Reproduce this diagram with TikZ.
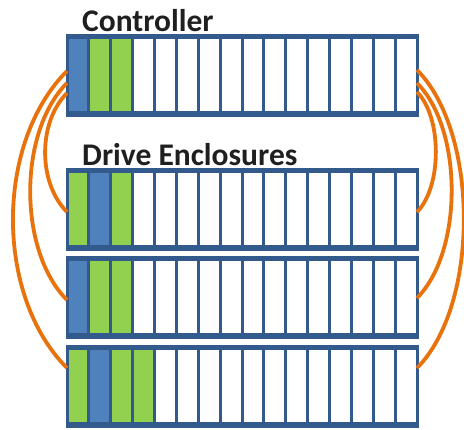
\documentclass[tikz,border=0pt]{standalone}
\usepackage{fontspec}
\setmainfont{Carlito}
\usetikzlibrary{positioning}
\definecolor{frameblue}{RGB}{50,90,140}
\definecolor{slotblue}{RGB}{79,129,189}
\definecolor{slotgreen}{RGB}{146,208,80}
\definecolor{cableorange}{RGB}{232,114,12}
\tikzset{node distance=54pt,
	encl/.style={draw=frameblue, line width=3pt, fill=frameblue, minimum width=350pt, minimum height=80pt, inner sep=0pt, outer sep=0pt},
	slot/.style={draw=frameblue, line width=2.4pt, minimum width=21.275pt, minimum height=74.5pt, inner sep=0pt, outer sep=0pt, anchor=north west},
	title/.style={anchor=base west, inner sep=0pt, text=black!88, font=\bfseries\fontsize{31.5pt}{36pt}\selectfont},
	cable/.style={draw=cableorange, line width=3.8pt}}

\begin{document}
\begin{tikzpicture}
    \useasboundingbox (0,0) rectangle (464pt,-430pt);
    \node[encl] (ctrl) at (242pt,-76pt) {};
    \node[encl, below=of ctrl] (encA) {};
    \node[encl, below=8pt of encA] (encB) {};
    \node[encl, below=9pt of encB] (encC) {};
    \node[title] (ctrlname) at ([xshift=15pt, yshift=4pt]ctrl.north west) {Controller};
    \node[title] (enclname) at ([xshift=15pt, yshift=4pt]encA.north west) {Drive Enclosures};
    % slots, first four colours given per enclosure
    \foreach \e/\a/\b/\c/\d in {ctrl/slotblue/slotgreen/slotgreen/white,
                                encA/slotgreen/slotblue/slotgreen/white,
                                encB/slotblue/slotgreen/slotgreen/white,
                                encC/slotgreen/slotblue/slotgreen/slotgreen}
      \foreach \i in {1,...,16}{
        \ifcase\i\or\let\fc\a\or\let\fc\b\or\let\fc\c\or\let\fc\d\else\def\fc{white}\fi
        \node[slot, fill=\fc] (\e-\i) at ([xshift={0.3pt+(\i-1)*21.875pt}, yshift=-1.5pt]\e.north west) {};
      }
    % cables
    \draw[cable] ([yshift=5pt]ctrl.west) to[out=225, in=135, looseness=0.88] ([yshift=19pt]encC.west);
    \draw[cable] ([yshift=-7pt]ctrl.west) to[out=225, in=135, looseness=0.82] ([yshift=-2pt]encB.west);
    \draw[cable] ([yshift=-17pt]ctrl.west) to[out=225, in=135, looseness=0.89] ([yshift=-2pt]encA.west);
    \draw[cable] ([yshift=6pt]ctrl.east) to[out=-45, in=45, looseness=0.76] ([yshift=19pt]encC.east);
    \draw[cable] ([yshift=-7pt]ctrl.east) to[out=-45, in=45, looseness=0.78] ([yshift=0pt]encB.east);
    \draw[cable] ([yshift=-16pt]ctrl.east) to[out=-45, in=45, looseness=0.76] ([yshift=-2pt]encA.east);
\end{tikzpicture}
\end{document}
